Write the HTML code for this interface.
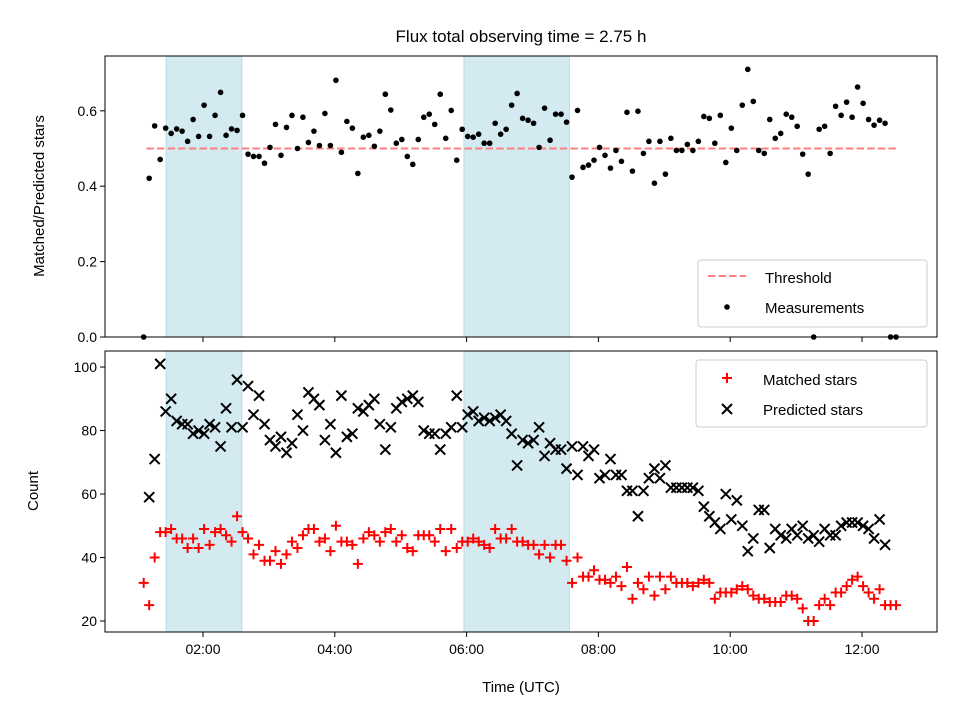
<!DOCTYPE html>
<html><head><meta charset="utf-8"><style>
body{margin:0;background:#fff}
svg{display:block;font-family:"Liberation Sans","DejaVu Sans",sans-serif}
</style></head><body>
<svg id="chart" width="960" height="720" viewBox="0 0 960 720">
<text x="521" y="42" text-anchor="middle" font-size="17">Flux total observing time = 2.75 h</text>
<g id="top"></g><g id="bot"></g>
</svg>
<script>
const startMinutes = 66, stepMinutes = 5;
const ratio = [0,0.421,0.560,0.471,0.554,0.540,0.552,0.546,0.519,0.577,0.532,0.615,0.532,0.588,0.649,0.535,0.552,0.548,0.588,0.485,0.479,0.479,0.461,0.503,0.564,0.482,0.556,0.588,0.500,0.583,0.516,0.546,0.508,0.593,0.508,0.681,0.490,0.572,0.554,0.434,0.530,0.535,0.506,0.546,0.644,0.602,0.514,0.524,0.479,
0.458,0.524,0.583,0.591,0.564,0.644,0.527,0.601,0.469,0.551,0.532,0.530,0.538,0.514,0.514,0.567,0.538,0.551,0.615,0.646,0.580,0.575,0.567,0.503,0.607,0.522,0.591,0.591,0.570,0.424,0.601,0.450,0.456,0.469,0.503,0.482,0.448,0.495,0.466,0.596,0.440,0.599,0.487,0.519,0.408,0.519,0.432,0.527,0.495,
0.495,0.511,0.495,0.519,0.585,0.580,0.514,0.588,0.463,0.554,0.495,0.615,0.710,0.625,0.495,0.487,0.577,0.527,0.540,0.591,0.583,0.559,0.485,0.432,0,0.551,0.559,0.487,0.612,0.588,0.623,0.583,0.663,0.620,0.577,0.562,0.575,0.567,0,0];
const matched = [32,25,40,48,48,49,46,46,43,46,43,49,44,48,49,47,45,53,48,46,41,44,39,39,42,38,41,45,43,47,49,49,45,46,42,50,45,45,44,38,46,48,47,45,48,49,45,47,43,
42,47,47,47,45,49,42,49,43,45,45,46,45,44,43,49,46,46,49,45,45,44,44,41,44,40,44,44,39,32,40,34,34,36,33,33,32,34,31,37,27,32,30,34,28,34,30,34,32,
32,32,31,32,33,32,27,29,29,29,30,31,30,28,27,27,26,26,26,28,28,27,24,20,20,25,27,25,29,29,31,33,34,31,29,27,30,25,25,25];
const predicted = [null,59,71,101,86,90,83,82,82,79,80,79,82,81,75,87,81,96,81,94,85,91,82,77,75,78,73,76,85,80,92,90,88,77,82,73,91,78,79,87,86,88,90,82,74,81,87,89,90,
91,89,80,79,79,74,79,81,91,81,85,86,83,84,83,84,85,83,79,69,77,76,77,81,72,76,74,74,68,75,66,75,72,74,65,66,71,66,66,61,61,53,61,65,68,65,69,62,62,
62,62,62,61,56,53,51,49,60,52,58,50,42,46,55,55,43,49,47,46,49,47,50,46,47,45,49,47,47,50,51,51,51,50,49,46,52,44,null,null];
const threshold = 0.5;
const shadeStart = [1.44, 5.96];
const shadeEnd = [2.59, 7.56];
const xTickHours = [2,4,6,8,10,12];
const xTickLabels = ["02:00","04:00","06:00","08:00","10:00","12:00"];
const topTicks = [0.0,0.2,0.4,0.6];
const topTickLabels = ["0.0","0.2","0.4","0.6"];
const botTicks = [20,40,60,80,100];

const NS="http://www.w3.org/2000/svg";
function mk(parent,tag,attrs){const e=document.createElementNS(NS,tag);for(const k in attrs)e.setAttribute(k,attrs[k]);parent.appendChild(e);return e;}
const L=105,R=937;
const xs=h=>203+(h-2)*65.9;
const T={t:56,b:337,min:0,max:0.7454};
const B={t:351,b:632,min:16.54,max:105.05};
const ys=(p,v)=>p.b-(v-p.min)/(p.max-p.min)*(p.b-p.t);
const tHours=i=>(startMinutes+i*stepMinutes)/60;

function panel(g,p,name){
  for(let k=0;k<shadeStart.length;k++){
    const r=mk(g,'rect',{x:xs(shadeStart[k]),y:p.t,width:xs(shadeEnd[k])-xs(shadeStart[k]),height:p.b-p.t,fill:'#d4eaf1',stroke:'#b9dde8','stroke-width':1});
    
    
  }
  xTickHours.forEach(h=>{mk(g,'line',{x1:xs(h),x2:xs(h),y1:p.b,y2:p.b+5,stroke:'#000','stroke-width':1});});
}
const gt=document.getElementById('top'), gb=document.getElementById('bot');
panel(gt,T,'top');panel(gb,B,'bottom');

// top panel
const th=mk(gt,'line',{x1:xs(tHours(0.5)),x2:xs(tHours(137.5)),y1:ys(T,threshold),y2:ys(T,threshold),stroke:'#ff7f7f','stroke-width':2,'stroke-dasharray':'7.4,3.2'});


ratio.forEach((v,i)=>{
  const c=mk(gt,'circle',{cx:xs(tHours(i)),cy:ys(T,v),r:2.8,fill:'#000'});
  
  
});
topTicks.forEach((v,k)=>{
  const y=ys(T,v);
  mk(gt,'line',{x1:L-5,x2:L,y1:y,y2:y,stroke:'#000'});
  const t=mk(gt,'text',{x:L-8,y:y+5,'text-anchor':'end','font-size':14});t.textContent=topTickLabels[k];
  
  
});
mk(gt,'rect',{x:L,y:T.t,width:R-L,height:T.b-T.t,fill:'none',stroke:'#000','stroke-width':1});

// bottom panel
matched.forEach((v,i)=>{
  if(v==null)return;
  const x=xs(tHours(i)),y=ys(B,v);
  const p=mk(gb,'path',{d:`M${x-5},${y}H${x+5}M${x},${y-5}V${y+5}`,stroke:'#f00','stroke-width':2});
  
  
});
predicted.forEach((v,i)=>{
  if(v==null)return;
  const x=xs(tHours(i)),y=ys(B,v);
  const p=mk(gb,'path',{d:`M${x-5},${y-5}L${x+5},${y+5}M${x-5},${y+5}L${x+5},${y-5}`,stroke:'#000','stroke-width':2});
  
  
});
botTicks.forEach(v=>{
  const y=ys(B,v);
  mk(gb,'line',{x1:L-5,x2:L,y1:y,y2:y,stroke:'#000'});
  const t=mk(gb,'text',{x:L-8,y:y+5,'text-anchor':'end','font-size':14});t.textContent=String(v);
  
  
});
xTickHours.forEach((h,k)=>{
  const t=mk(gb,'text',{x:xs(h),y:B.b+22,'text-anchor':'middle','font-size':14});t.textContent=xTickLabels[k];
  
  
});
mk(gb,'rect',{x:L,y:B.t,width:R-L,height:B.b-B.t,fill:'none',stroke:'#000','stroke-width':1});
</script>
<svg width="960" height="720" style="position:absolute;left:0;top:0;font-family:'Liberation Sans','DejaVu Sans',sans-serif">
<text transform="translate(44,196) rotate(-90)" text-anchor="middle" font-size="15">Matched/Predicted stars</text>
<text transform="translate(38,491) rotate(-90)" text-anchor="middle" font-size="15">Count</text>
<text x="521" y="692" text-anchor="middle" font-size="15">Time (UTC)</text>
<g>
<rect x="698" y="260" width="229" height="67" rx="3" fill="#fff" fill-opacity="0.85" stroke="#ccc"/>
<line x1="708" y1="276" x2="746" y2="276" stroke="#ff7f7f" stroke-width="2" stroke-dasharray="7.4,3.2"/>
<text x="765" y="283" font-size="15">Threshold</text>
<circle cx="727" cy="307" r="2.8" fill="#000"/>
<text x="765" y="313" font-size="15">Measurements</text>
</g>
<g>
<rect x="696" y="360" width="231" height="67" rx="3" fill="#fff" fill-opacity="0.85" stroke="#ccc"/>
<path d="M722,378H732M727,373V383" stroke="#f00" stroke-width="2"/>
<text x="763" y="385" font-size="15">Matched stars</text>
<path d="M722,404L732,414M722,414L732,404" stroke="#000" stroke-width="2"/>
<text x="763" y="415" font-size="15">Predicted stars</text>
</g>
</svg>
</body></html>
